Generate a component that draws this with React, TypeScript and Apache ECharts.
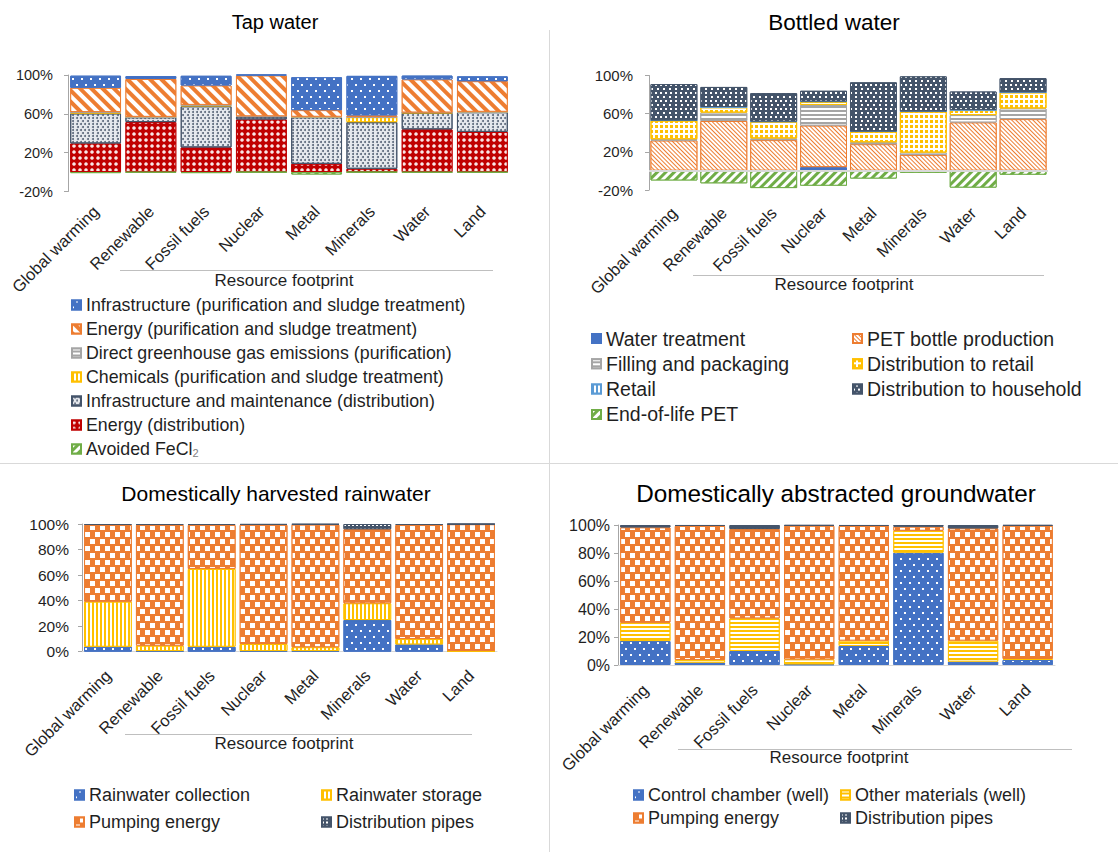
import React, { useEffect, useRef } from 'react';
import * as echarts from 'echarts';

const categories = ['Global warming', 'Renewable', 'Fossil fuels', 'Nuclear', 'Metal', 'Minerals', 'Water', 'Land'];

// Tap water (stack order bottom -> top), % of total
const tapEnergyDistribution = [29.5, 51.5, 25.4, 54.2, 8.5, 3.4, 44, 41.4];
const tapInfraDistribution = [31, 5, 42.4, 3, 48, 48, 17, 20.3];
const tapChemicals = [1, 0.3, 1.2, 0.2, 0.4, 5.1, 0.3, 0.3];
const tapDirectGHG = [0.3, 0.1, 0.2, 0.1, 0.1, 0.2, 0.1, 0.1];
const tapEnergyPurification = [25, 39, 20, 42, 6.8, 1.7, 34, 31.5];
const tapInfraPurification = [12.5, 3, 10, 1, 33.9, 40.7, 4, 5];
const tapAvoidedFeCl2 = [-1, -0.5, -1, -0.3, -2.5, -0.3, -0.5, -0.5];

// Bottled water
const btWaterTreatment = [0.3, 0.3, 0.3, 4, 0.3, 0.2, 0.3, 0.3];
const btPET = [31.5, 52, 32, 43.5, 27.7, 16.6, 50.5, 54];
const btFilling = [1.4, 8.8, 1.8, 21.6, 2, 2.4, 7.7, 11.2];
const btDistRetail = [19.6, 5.6, 17.5, 3.5, 11.2, 43, 5.2, 16.8];
const btRetail = [0.2, 0.3, 0.2, 0.2, 0.2, 0.2, 0.3, 0.2];
const btDistHousehold = [38, 21, 29.7, 11.2, 51.4, 36.7, 19.2, 14.7];
const btEndOfLife = [-10, -13, -18, -15.5, -8, -2, -17.5, -4];

// Domestically harvested rainwater
const rwCollection = [3.9, 0.5, 3.9, 0.5, 0.5, 24.8, 5.7, 0.3];
const rwStorage = [35.3, 4.2, 60.9, 5.5, 3, 13.1, 4.2, 0.3];
const rwPumping = [60, 94.5, 34.4, 93.3, 96, 58, 89.3, 99.2];
const rwPipes = [0.8, 0.8, 0.8, 0.7, 0.5, 4.1, 0.8, 0.2];

// Domestically abstracted groundwater
const gwControlChamber = [17.1, 1.7, 10, 0.5, 13.6, 80.2, 2.4, 3.6];
const gwOtherMaterials = [13.1, 1.9, 23.3, 3.5, 3.8, 15.7, 15, 0.7];
const gwPumping = [68.1, 95.7, 63.8, 95.4, 81.9, 2.9, 80.2, 95.1];
const gwPipes = [1.7, 0.7, 2.9, 0.6, 0.7, 1.2, 2.4, 0.6];

const FONT = "'Liberation Sans', Arial, sans-serif";
const TXT = '#1f1f1f';
const C = {
  blue: '#4472C4', orange: '#ED7D31', grey: '#A5A5A5', yellow: '#FFC000',
  lightBlue: '#5B9BD5', green: '#70AD47', navy: '#44546A', red: '#C00000',
};

const W = '#ffffff';
const D = {
  dots: { symbol: 'rect', symbolSize: 1, color: W, dashArrayX: [[1.5, 6.5], [0, 4, 1.5, 2.5]], dashArrayY: [1.5, 3.5] },
  wideBack: { symbol: 'rect', symbolSize: 1, color: W, dashArrayX: [1, 0], dashArrayY: [3.5, 3.5], rotation: Math.PI / 4 },
  wideFwd: { symbol: 'rect', symbolSize: 1, color: W, dashArrayX: [1, 0], dashArrayY: [3, 3], rotation: -Math.PI / 4 },
  hLines: { symbol: 'rect', symbolSize: 1, color: W, dashArrayX: [1, 0], dashArrayY: [1.5, 1.5] },
  vLines: { symbol: 'rect', symbolSize: 1, color: W, dashArrayX: [1, 0], dashArrayY: [1.5, 1.5], rotation: Math.PI / 2 },
  lattice: { symbol: 'circle', symbolSize: 1, color: '#5a6679', dashArrayX: [[1.6, 1.9], [0, 1.75, 1.6, 0.15]], dashArrayY: [1.6, 0.6] },
  circles: { symbol: 'circle', symbolSize: 0.9, color: 'rgba(255,255,255,0.9)', dashArrayX: [4, 2], dashArrayY: [4, 2] },
  fineHatch: { symbol: 'rect', symbolSize: 1, color: W, dashArrayX: [1, 0], dashArrayY: [1.6, 1], rotation: Math.PI / 4 },
  yellowGrid: { symbol: 'rect', symbolSize: 1, color: C.yellow, dashArrayX: [3, 1.4], dashArrayY: [3, 1.4] },
  confetti: { symbol: 'rect', symbolSize: 1, color: W, dashArrayX: [[1.5, 3], [0, 2.2, 1.5, 0.8]], dashArrayY: [1.5, 1.5] },
  checker: { symbol: 'rect', symbolSize: 1, color: W, dashArrayX: [[5, 5], [0, 5, 5, 0]], dashArrayY: [5, 1.5] },
  pipes: { symbol: 'rect', symbolSize: 1, color: W, dashArrayX: [1.5, 1.5], dashArrayY: [1.5, 1.5] },
};

function bar(name: string, data: number[], axis: number, color: string, decal: any, gap: string, extra: any = {}, fill?: string) {
  const item: any = { color: fill || color, borderColor: color, borderWidth: 1 };
  if (decal) item.decal = decal;
  return {
    type: 'bar', name, data, xAxisIndex: axis, yAxisIndex: axis, stack: 's' + axis,
    barCategoryGap: gap, itemStyle: item, emphasis: { disabled: true }, silent: true, ...extra,
  };
}

const grids = [
  { left: 68, top: 75, width: 442, height: 116.5 },
  { left: 649, top: 75.5, width: 399, height: 114.5 },
  { left: 82, top: 524, width: 415, height: 127.7 },
  { left: 618, top: 525, width: 437, height: 140 },
];
const yCfg = [
  { min: -20, max: 100, interval: 40, margin: 15, fs: 14.5 },
  { min: -20, max: 100, interval: 40, margin: 16, fs: 15 },
  { min: 0, max: 100, interval: 20, margin: 13, fs: 15.5 },
  { min: 0, max: 100, interval: 20, margin: 8, fs: 16 },
];
const xCfg = [
  { margin: 17, fs: 16.5 },
  { margin: 20, fs: 16.5 },
  { margin: 21, fs: 16.5 },
  { margin: 22, fs: 16.5 },
];

function legend(left: number, top: number, fs: number, lh: number, gap: number, data: string[], extra: any = {}) {
  return {
    orient: 'vertical', itemWidth: 9, itemHeight: 9, selectedMode: false, icon: 'rect', padding: 0,
    left, top, itemGap: gap, data,
    textStyle: { fontSize: fs, lineHeight: lh, color: TXT, fontFamily: FONT,
      rich: { sub: { fontSize: 11, lineHeight: 11, verticalAlign: 'bottom', color: '#7f7f7f', fontFamily: FONT } } },
    ...extra,
  };
}

const option: any = {
  animation: false,
  textStyle: { fontFamily: FONT },
  grid: grids.map((g) => ({ ...g, containLabel: false, outerBoundsMode: 'none' })),
  xAxis: grids.map((_, i) => ({
    type: 'category', gridIndex: i, data: categories,
    axisTick: { show: false },
    axisLine: { show: i >= 2, lineStyle: { color: '#D9D9D9', width: 1 } },
    axisLabel: { interval: 0, rotate: 45, fontSize: xCfg[i].fs, color: TXT, margin: xCfg[i].margin, fontFamily: FONT },
  })),
  yAxis: yCfg.map((c, i) => ({
    type: 'value', gridIndex: i, min: c.min, max: c.max, interval: c.interval,
    axisLine: { show: true, lineStyle: { color: '#A6A6A6' } },
    axisTick: { show: true, length: 4, lineStyle: { color: '#A6A6A6' } },
    splitLine: { show: false },
    axisLabel: { formatter: '{value}%', fontSize: c.fs, color: TXT, margin: c.margin, fontFamily: FONT },
  })),
  legend: [
    legend(71, 296, 17.8, 18, 6,
      ['Infrastructure (purification and sludge treatment)', 'Energy (purification and sludge treatment)',
        'Direct greenhouse gas emissions (purification)', 'Chemicals (purification and sludge treatment)',
        'Infrastructure and maintenance (distribution)', 'Energy (distribution)', 'Avoided FeCl2'],
      { formatter: (n: string) => (n === 'Avoided FeCl2' ? 'Avoided FeCl{sub|2}' : n) }),
    legend(591, 328.5, 19.5, 20, 5.3, ['Water treatment', 'Filling and packaging', 'Retail', 'End-of-life PET']),
    legend(852, 328.5, 19.5, 20, 5.3, ['PET bottle production', 'Distribution to retail', 'Distribution to household']),
    legend(74, 786, 18, 18, 9, ['Rainwater collection', 'Pumping energy']),
    legend(321, 786, 18, 18, 9, ['Rainwater storage', 'Distribution pipes']),
    legend(633, 786, 18, 18, 5, ['Control chamber (well)', 'Pumping energy']),
    legend(840, 786, 18, 18, 5, ['Other materials (well)', 'Distribution pipes']),
  ],
  series: [
    bar('Energy (distribution)', tapEnergyDistribution, 0, C.red, D.circles, '8%'),
    bar('Infrastructure and maintenance (distribution)', tapInfraDistribution, 0, C.navy, D.lattice, '8%', {}, '#e6e9ee'),
    bar('Chemicals (purification and sludge treatment)', tapChemicals, 0, C.yellow, D.vLines, '8%'),
    bar('Direct greenhouse gas emissions (purification)', tapDirectGHG, 0, C.grey, D.hLines, '8%'),
    bar('Energy (purification and sludge treatment)', tapEnergyPurification, 0, C.orange, D.wideBack, '8%'),
    bar('Infrastructure (purification and sludge treatment)', tapInfraPurification, 0, C.blue, D.dots, '8%'),
    bar('Avoided FeCl2', tapAvoidedFeCl2, 0, C.green, D.wideFwd, '8%'),

    bar('Water treatment', btWaterTreatment, 1, C.blue, null, '6%'),
    bar('PET bottle production', btPET, 1, C.orange, D.fineHatch, '6%', {
      markLine: { silent: true, symbol: ['none', 'none'], label: { show: false },
        lineStyle: { color: '#D9D9D9', width: 2, type: 'solid' }, data: [{ yAxis: 0 }] },
    }),
    bar('Filling and packaging', btFilling, 1, C.grey, D.hLines, '6%'),
    bar('Distribution to retail', btDistRetail, 1, C.yellow, D.yellowGrid, '6%', {}, '#ffffff'),
    bar('Retail', btRetail, 1, C.lightBlue, D.vLines, '6%'),
    bar('Distribution to household', btDistHousehold, 1, C.navy, D.confetti, '6%'),
    bar('End-of-life PET', btEndOfLife, 1, C.green, D.wideFwd, '6%'),

    bar('Rainwater collection', rwCollection, 2, C.blue, D.dots, '8%'),
    bar('Rainwater storage', rwStorage, 2, C.yellow, D.vLines, '8%'),
    bar('Pumping energy', rwPumping, 2, C.orange, D.checker, '8%'),
    bar('Distribution pipes', rwPipes, 2, C.navy, D.pipes, '8%'),

    bar('Control chamber (well)', gwControlChamber, 3, C.blue, D.dots, '8%'),
    bar('Other materials (well)', gwOtherMaterials, 3, C.yellow, D.hLines, '8%'),
    bar('Pumping energy', gwPumping, 3, C.orange, D.checker, '8%'),
    bar('Distribution pipes', gwPipes, 3, C.navy, D.pipes, '8%'),
  ],
  graphic: [
    { type: 'line', shape: { x1: 549.5, y1: 30, x2: 549.5, y2: 852 }, style: { stroke: '#D9D9D9', lineWidth: 1 }, silent: true },
    { type: 'line', shape: { x1: 0, y1: 463.5, x2: 1118, y2: 463.5 }, style: { stroke: '#D9D9D9', lineWidth: 1 }, silent: true },
    ...[
      { t: 'Tap water', x: 275, y: 22, fs: 20 },
      { t: 'Bottled water', x: 834, y: 22, fs: 22.5 },
      { t: 'Domestically harvested rainwater', x: 276, y: 493, fs: 21 },
      { t: 'Domestically abstracted groundwater', x: 836, y: 493, fs: 24.3 },
    ].map((o) => ({
      type: 'text', x: o.x, y: o.y, silent: true,
      style: { text: o.t, fontSize: o.fs, fontFamily: FONT, fill: '#000', textAlign: 'center', textVerticalAlign: 'middle' },
    })),
    ...[
      { x1: 120, x2: 493, y: 270.5, tx: 284, ty: 280.5 },
      { x1: 693, x2: 1044, y: 275.5, tx: 844, ty: 284 },
      { x1: 125, x2: 472, y: 734.5, tx: 284, ty: 743.5 },
      { x1: 678, x2: 1072, y: 749.5, tx: 839, ty: 757 },
    ].flatMap((o) => [
      { type: 'line', silent: true, shape: { x1: o.x1, y1: o.y, x2: o.x2, y2: o.y }, style: { stroke: '#BFBFBF', lineWidth: 1 } },
      { type: 'text', silent: true, x: o.tx, y: o.ty,
        style: { text: 'Resource footprint', fontSize: 17, fontFamily: FONT, fill: TXT, textAlign: 'center', textVerticalAlign: 'middle' } },
    ]),
  ],
};

export default function App() {
  const ref = useRef<HTMLDivElement>(null);
  useEffect(() => {
    document.body.style.margin = '0';
    const chart = echarts.init(ref.current as HTMLDivElement, null, { renderer: 'svg' });
    chart.setOption(option);
    return () => chart.dispose();
  }, []);
  return <div ref={ref} style={{ width: 1118, height: 852 }} />;
}
